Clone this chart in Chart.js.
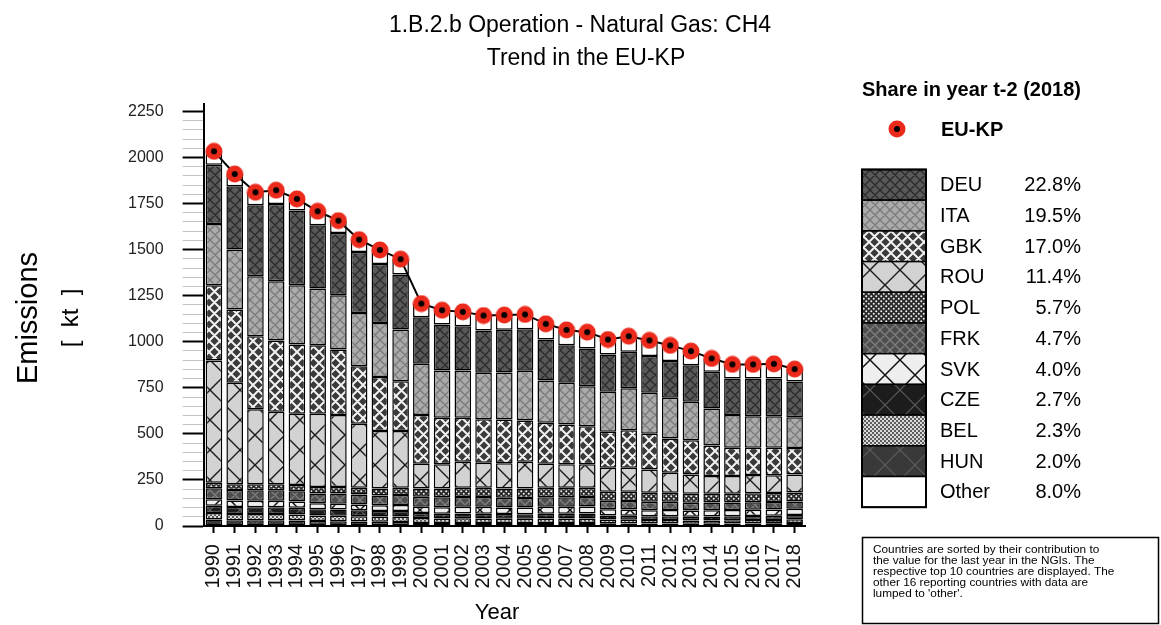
<!DOCTYPE html>
<html>
<head>
<meta charset="utf-8">
<script src="https://cdn.jsdelivr.net/npm/chart.js@4.4.1/dist/chart.umd.min.js"></script>
<style>
  html, body { margin: 0; padding: 0; background: #ffffff; }
  #wrap { width: 1161px; height: 625px; position: relative; }
  canvas { display: block; }
</style>
</head>
<body>
<div id="wrap"><canvas id="c" width="1161" height="625"></canvas></div>
<script>
// ---- data (kt CH4) ----
const years = ['1990','1991','1992','1993','1994','1995','1996','1997','1998','1999',
               '2000','2001','2002','2003','2004','2005','2006','2007','2008','2009',
               '2010','2011','2012','2013','2014','2015','2016','2017','2018'];

const euTotal = [2033,1910,1811,1822,1775,1708,1657,1554,1498,1448,1207,1171,1162,1142,1145,1148,1097,1064,1052,1012,1030,1007,980,949,909,877,877,880,851.5];

const deu = [322,343,385,419,405,343,338,331,320,298,253,250,240,230,232,225,222,204,204,203,198,199,199,199,200,199,205,205,194];
const ita = [332,325,325,321,322,308,294,289,294,281,278,257,257,252,255,270,230,226,217,217,228,223,221,209,200,177,171,171,166];
const gbk = [409,398,397,387,376,372,356,312,293,271,264,252,238,236,238,224,222,216,207,195,203,193,186,185,166,154,148,150,144.5];
const rou = [663,551,407,394,387,398,391,347,311,307,134,131,141,135,136,145,130,127,127,130,130,126,108,105,96,96,99,96,97];
const pol = [30,30,32,32,33,34,35,37,38,40,45,48,50,50,51,52,52,52,51,49,50,50,50,49,48,47,49,49,48.5];
const frk = [60,58,57,57,56,54,55,54,53,54,55,54,54,54,52,52,52,51,51,46,46,45,44,42,42,41,41,41,40];
const svk = [35,35,35,35,34,32,32,32,31,32,34,35,36,37,36,36,37,38,38,34,34,33,34,34,34,34,34,34,34];
const cze = [40,38,37,37,36,34,33,32,31,31,27,26,26,26,26,25,26,26,27,22,22,21,21,20,21,22,22,22,23];
const bel = [35,34,34,34,33,30,30,29,28,29,26,25,25,24,23,23,24,24,24,20,20,19,19,18,18,18,18,18,19.5];
const hun = [35,31,31,31,30,27,26,24,23,22,17,16,17,17,16,16,17,17,17,15,14,13,13,12,12,13,14,15,17];
const other = [72,67,71,75,63,76,67,67,76,83,74,77,78,81,80,80,85,83,89,81,85,85,85,76,72,76,76,79,68];

const yTicks = [0,250,500,750,1000,1250,1500,1750,2000,2250];
const legendOrder = ['DEU','ITA','GBK','ROU','POL','FRK','SVK','CZE','BEL','HUN','Other'];
const titleLines = ['1.B.2.b Operation - Natural Gas: CH4', 'Trend in the EU-KP'];
const noteLines = [
  'Countries are sorted by their contribution to',
  'the value for the last year in the NGIs. The',
  'respective top 10 countries are displayed. The',
  'other 16 reporting countries with data are',
  "lumped to 'other'."
];

const FONT = '"Liberation Sans", Arial, Helvetica, sans-serif';
const canvas = document.getElementById('c');
const ctx0 = canvas.getContext('2d');

// ---- hatch fills ----
function tile(size, base, draw) {
  const c = document.createElement('canvas');
  c.width = size; c.height = size;
  const g = c.getContext('2d');
  g.fillStyle = base;
  g.fillRect(0, 0, size, size);
  if (draw) draw(g, size);
  return ctx0.createPattern(c, 'repeat');
}
function lattice(color, w) {
  return (g, s) => {
    g.strokeStyle = color; g.lineWidth = w;
    g.beginPath();
    for (const d of [-s, 0, s]) {
      g.moveTo(d, 0); g.lineTo(d + s, s);
      g.moveTo(d + s, 0); g.lineTo(d, s);
    }
    g.stroke();
  };
}
function dots(color, r) {
  return (g, s) => {
    g.fillStyle = color;
    for (const [x, y] of [[s/4, s/4], [3*s/4, 3*s/4]]) {
      g.beginPath(); g.arc(x, y, r, 0, Math.PI * 2); g.fill();
    }
  };
}

const fills = {
  DEU: tile(10, '#595959', lattice('#2a2a2a', 1.3)),
  ITA: tile(10, '#ababab', lattice('#7a7a7a', 1.3)),
  GBK: tile(11, '#3a3a3a', lattice('#f2f2f2', 2)),
  ROU: tile(30, '#d2d2d2', lattice('#1a1a1a', 1.4)),
  POL: tile(5, '#2a2a2a', dots('#f0f0f0', 1.0)),
  FRK: tile(10, '#4e4e4e', lattice('#7f7f7f', 1.3)),
  SVK: tile(30, '#eeeeee', lattice('#111111', 1.5)),
  CZE: tile(30, '#1c1c1c', lattice('#5c5c5c', 1.2)),
  BEL: tile(4, '#dadada', dots('#222222', 0.9)),
  HUN: tile(30, '#393939', lattice('#5e5e5e', 1.2)),
  Other: '#ffffff'
};

// stacked from the bottom up, 'Other' on top
const series = [
  ['HUN', hun], ['BEL', bel], ['CZE', cze], ['SVK', svk], ['FRK', frk],
  ['POL', pol], ['ROU', rou], ['GBK', gbk], ['ITA', ita], ['DEU', deu], ['Other', other]
];
const byName = Object.fromEntries(series);

// red EU-KP marker with black centre
function markerCanvas() {
  const c = document.createElement('canvas');
  c.width = 18; c.height = 18;
  const g = c.getContext('2d');
  g.fillStyle = '#ec2a1c';
  g.beginPath(); g.arc(9, 9, 8.5, 0, Math.PI * 2); g.fill();
  g.fillStyle = '#000';
  g.beginPath(); g.arc(9, 9, 3, 0, Math.PI * 2); g.fill();
  return c;
}
const marker = markerCanvas();

const datasets = series.map(([name, vals]) => ({
  type: 'bar',
  label: name,
  data: vals,
  backgroundColor: fills[name],
  borderColor: '#000000',
  borderWidth: 1.5,
  borderSkipped: false,
  stack: 'countries',
  order: 1,
  barPercentage: 0.8,
  categoryPercentage: 1.0
}));
datasets.push({
  type: 'line',
  label: 'EU-KP',
  data: euTotal,
  stack: 'eu',
  order: 0,
  borderColor: '#000000',
  borderWidth: 2,
  pointStyle: marker,
  pointRadius: 9,
  tension: 0,
  fill: false
});

const last = years.length - 1;
const total2018 = euTotal[last];

const decor = {
  id: 'decor',
  afterDraw(chart) {
    const g = chart.ctx;
    g.save();
    g.fillStyle = '#000';
    g.textBaseline = 'middle';
    g.textAlign = 'center';

    g.font = '23px ' + FONT;
    g.fillText(titleLines[0], 580, 26);
    g.fillText(titleLines[1], 586, 59);

    g.save(); g.translate(29, 318); g.rotate(-Math.PI / 2);
    g.font = '29px ' + FONT; g.fillText('Emissions', 0, 0); g.restore();
    g.save(); g.translate(71, 318); g.rotate(-Math.PI / 2);
    g.font = '24px ' + FONT; g.fillText('[  kt  ]', 0, 0); g.restore();

    g.font = '22px ' + FONT;
    g.fillText('Year', 497, 613);

    // share legend
    g.textAlign = 'left';
    g.font = 'bold 20px ' + FONT;
    g.fillText('Share in year t-2 (2018)', 862, 90);
    g.drawImage(marker, 897 - 9, 129 - 9);
    g.fillText('EU-KP', 941, 130);

    const bx = 862, bw = 64, by = 169.5, rh = 30.7;
    g.font = '20px ' + FONT;
    legendOrder.forEach((name, i) => {
      const y = by + i * rh;
      g.fillStyle = fills[name];
      g.fillRect(bx, y, bw, rh);
      g.strokeStyle = '#000'; g.lineWidth = 1.5;
      g.strokeRect(bx, y, bw, rh);
      g.fillStyle = '#000';
      g.textAlign = 'left';
      g.fillText(name, 940, y + rh / 2 + 1);
      g.textAlign = 'right';
      const share = (byName[name][last] / total2018 * 100).toFixed(1) + '%';
      g.fillText(share, 1081, y + rh / 2 + 1);
    });
    g.lineWidth = 2;
    g.strokeRect(bx, by, bw, rh * legendOrder.length);

    // note box
    g.lineWidth = 1.5;
    g.strokeRect(862.5, 537.5, 296, 86);
    g.textAlign = 'left';
    g.font = '11.8px ' + FONT;
    noteLines.forEach((t, i) => g.fillText(t, 873, 550 + i * 11));
    g.restore();
  }
};

new Chart(canvas, {
  data: { labels: years, datasets },
  options: {
    responsive: false,
    animation: false,
    devicePixelRatio: 1,
    layout: { padding: { left: 109, right: 356, top: 104, bottom: 25.5 } },
    plugins: { legend: { display: false }, tooltip: { enabled: false }, title: { display: false } },
    scales: {
      x: {
        stacked: true,
        offset: true,
        grid: { display: true, drawOnChartArea: false, offset: false, tickLength: 7, tickColor: '#000', tickWidth: 2 },
        border: { display: true, color: '#000', width: 2 },
        ticks: {
          autoSkip: false, minRotation: 90, maxRotation: 90, padding: 11,
          color: '#111', font: { family: FONT, size: 20 }
        }
      },
      y: {
        stacked: true,
        min: 0,
        max: 2290,
        afterBuildTicks(scale) {
          const t = [];
          for (let v = 0; v <= yTicks[yTicks.length - 1]; v += 50) t.push({ value: v });
          scale.ticks = t;
        },
        grid: {
          display: true, drawOnChartArea: false, tickLength: 21,
          tickColor: (c) => (yTicks.includes(c.tick.value) ? '#000' : '#c4c4c4'),
          tickWidth: (c) => (yTicks.includes(c.tick.value) ? 2 : 1)
        },
        border: { display: true, color: '#000', width: 2 },
        ticks: {
          autoSkip: false, padding: 19, color: '#222',
          font: { family: FONT, size: 16 },
          callback: (v) => (yTicks.includes(v) ? String(v) : '')
        }
      }
    }
  },
  plugins: [decor]
});
</script>
</body>
</html>
